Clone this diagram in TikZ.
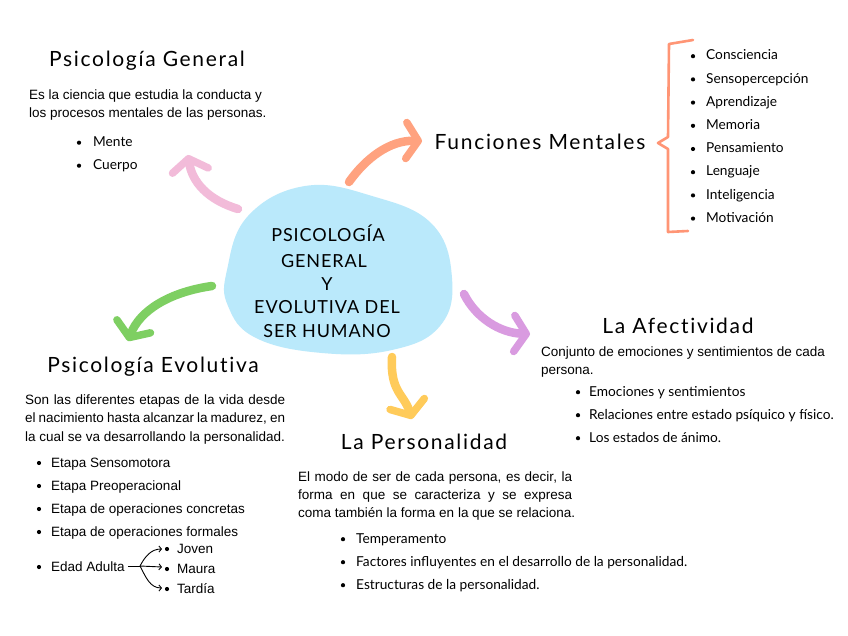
\documentclass[tikz,border=0pt]{standalone}
\usepackage{fontspec}
\setmainfont{Liberation Sans}
\newfontfamily\handf[LetterSpace=8,Ligatures={NoCommon,NoRare,NoDiscretionary}]{Lato}
\newfontfamily\capsf[LetterSpace=5]{Lato}
\newfontfamily\roundf{Lato}
\usetikzlibrary{arrows.meta}
\definecolor{blobc}{HTML}{BAE9FB}
\definecolor{pinkc}{HTML}{F2BBD9}
\definecolor{orangec}{HTML}{FFA27F}
\definecolor{greenc}{HTML}{7ECF62}
\definecolor{yellowc}{HTML}{FFCB5A}
\definecolor{purplec}{HTML}{D99BE0}
\definecolor{bracec}{HTML}{FF9575}
\tikzset{
  title/.style={anchor=base, inner sep=0pt, font=\handf\fontsize{21}{24}\selectfont},
  centertxt/.style={anchor=base, inner sep=0pt, font=\capsf\fontsize{18}{20}\selectfont},
  body/.style={anchor=base west, inner sep=0pt, font=\fontsize{13.5}{16}\selectfont},
  rlist/.style={anchor=base west, inner sep=0pt, font=\roundf\fontsize{13.7}{15}\selectfont},
  alist/.style={anchor=base west, inner sep=0pt, font=\fontsize{13.5}{16}\selectfont},
  bigarrow/.style={line width=8.5pt, line cap=round,
     -{Straight Barb[length=12pt,width=36pt,line width=7.5pt,round]}},
  thinarrow/.style={line width=0.9pt, -{Straight Barb[length=2.5pt,width=6pt,line width=0.9pt]}},
  bul/.style={fill=black},
}
\begin{document}
\begin{tikzpicture}[x=1pt,y=-1pt]
\useasboundingbox (0,0) rectangle (848,636);
\fill[white] (0,0) rectangle (848,636);

% central blob
\fill[blobc] plot[smooth cycle, tension=0.7] coordinates
  {(227,270) (248,216) (305,186) (372,196) (432,224) (452,278) (440,326) (392,350) (322,353) (256,338) (228,306)};
\node[centertxt] (c1) at (328,242) {PSICOLOGÍA};
\node[centertxt] (c2) at (324,267) {GENERAL};
\node[centertxt] (c3) at (327,290) {Y};
\node[centertxt] (c4) at (327,313) {EVOLUTIVA DEL};
\node[centertxt] (c5) at (327,337) {SER HUMANO};

% arrows
\coordinate (pS) at (238,209); \coordinate (pE) at (188,155);
\coordinate (oS) at (349,182); \coordinate (oE) at (422,141);
\coordinate (gS) at (212,286); \coordinate (gE) at (128,341);
\coordinate (yS) at (392,357); \coordinate (yE) at (412,419);
\coordinate (vS) at (464,294); \coordinate (vE) at (530,334);
\draw[bigarrow, pinkc] (pS) .. controls (208,200) and (192,182) .. (pE);
\draw[bigarrow, orangec] (oS) .. controls (366,158) and (390,140) .. (oE);
\draw[bigarrow, greenc] (gS) .. controls (170,292) and (140,310) .. (gE);
\draw[bigarrow, yellowc] (yS) .. controls (390,392) and (404,394) .. (yE);
\draw[bigarrow, purplec] (vS) .. controls (476,318) and (500,333) .. (vE);

% Psicologia General
\node[title] (tGen) at (147,67) {Psicología General};
\node[body] (g1) at (29,100) {Es la ciencia que estudia la conducta y};
\node[body] (g2) at (29,118) {los procesos mentales de las personas.};
\foreach \t/\yy [count=\i] in {Mente/146.5, Cuerpo/169.5}{
  \fill[bul] (79,\yy-3.8) circle (2.1pt);
  \node[rlist] (gl\i) at (93,\yy) {\t};
}

% Funciones Mentales
\node[title] (tFun) at (540,150) {Funciones Mentales};
\draw[bracec, line width=2.6pt, line cap=round, line join=round]
  (693,40) -- (669,44) -- (668,137) -- (658,143) -- (668,149) -- (668,232) -- (688,231);
\foreach \t [count=\i] in {Consciencia, Sensopercepción, Aprendizaje, Memoria, Pensamiento, Lenguaje, Inteligencia, Motivación}{
  \fill[bul] (693,{60+23.2*(\i-1)-3.8}) circle (2.1pt);
  \node[rlist] (fm\i) at (706,{60+23.2*(\i-1)}) {\t};
}

% La Afectividad
\node[title] (tAf) at (678,333) {La Afectividad};
\node[body] (a1) at (541,356) {Conjunto de emociones y sentimientos de cada};
\node[body] (a2) at (541,374) {persona.};
\foreach \t/\yy [count=\i] in {Emociones y sentimientos/396, Relaciones entre estado psíquico y físico./419, Los estados de ánimo./442}{
  \fill[bul] (578,\yy-3.8) circle (2.1pt);
  \node[rlist] (al\i) at (589,\yy) {\t};
}

% Psicologia Evolutiva
\node[title] (tEv) at (153,372) {Psicología Evolutiva};
\node[body] (e1) at (25,404) {\makebox[260pt][s]{Son las diferentes etapas de la vida desde}};
\node[body] (e2) at (25,422) {\makebox[260pt][s]{el nacimiento hasta alcanzar la madurez, en}};
\node[body] (e3) at (25,441) {la cual se va desarrollando la personalidad.};
\foreach \t/\yy [count=\i] in {Etapa Sensomotora/467, Etapa Preoperacional/490, Etapa de operaciones concretas/513, Etapa de operaciones formales/536, Edad Adulta/571}{
  \fill[bul] (39,\yy-4) circle (2.1pt);
  \node[alist] (el\i) at (51,\yy) {\t};
}
\foreach \t/\yy [count=\i] in {Joven/553, Maura/573, Tardía/593}{
  \fill[bul] (167,\yy-4) circle (2.1pt);
  \node[alist] (ea\i) at (177,\yy) {\t};
}
\coordinate (br) at (140,566);
\coordinate (t1) at (162,549);
\coordinate (t2) at (162,567);
\coordinate (t3) at (162,588);
\draw[line width=0.9pt] (el5.east |- br) ++(3,0) -- (br);
\draw[thinarrow] (br) to[out=62,in=180] (t1);
\draw[thinarrow] (br) -- (t2);
\draw[thinarrow] (br) to[out=-62,in=180] (t3);

% La Personalidad
\node[title] (tPer) at (424,449) {La Personalidad};
\node[body] (p1) at (298,481) {\makebox[274pt][s]{El modo de ser de cada persona, es decir, la}};
\node[body] (p2) at (298,499) {\makebox[274pt][s]{forma en que se caracteriza y se expresa}};
\node[body] (p3) at (298,517) {coma también la forma en la que se relaciona.};
\foreach \t/\yy [count=\i] in {Temperamento/543, Factores influyentes en el desarrollo de la personalidad./566, Estructuras de la personalidad./589}{
  \fill[bul] (343,\yy-3.8) circle (2.1pt);
  \node[rlist] (pl\i) at (356,\yy) {\t};
}
\end{tikzpicture}
\end{document}
